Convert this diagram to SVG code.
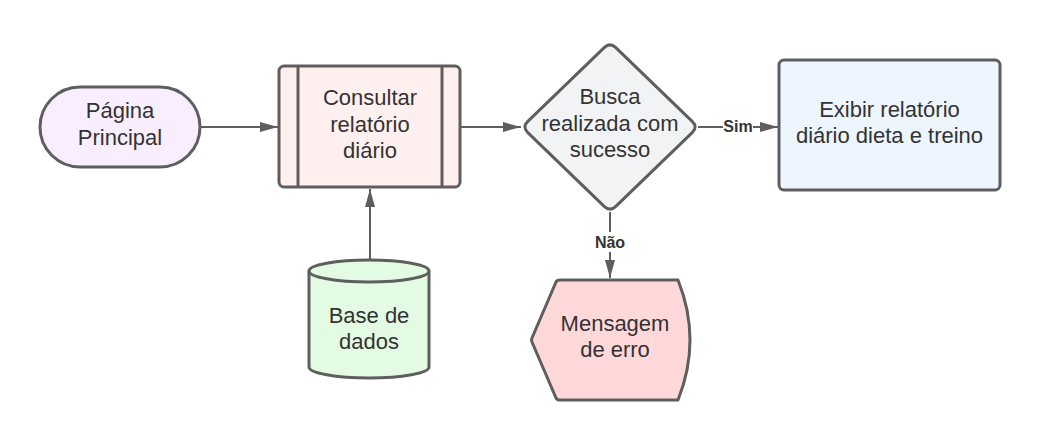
<svg xmlns="http://www.w3.org/2000/svg" width="1040" height="440" viewBox="0 0 1040 440">
<defs>
<marker id="ah" markerWidth="18" markerHeight="10" refX="18" refY="5" orient="auto" markerUnits="userSpaceOnUse">
<path d="M0,0 L18,5 L0,10 Z" fill="#5e5e5e"/>
</marker>
<style>
.sh{stroke:#5e5e5e;stroke-width:3;stroke-linejoin:round}
.t{font-family:"Liberation Sans",Arial,sans-serif;font-size:22px;fill:#333333;text-anchor:middle}
.lb{font-family:"Liberation Sans",Arial,sans-serif;font-size:16px;font-weight:bold;fill:#333333;text-anchor:middle}
.c{stroke:#5e5e5e;stroke-width:2;fill:none}
</style>
</defs>
<rect width="1040" height="440" fill="#ffffff"/>
<g id="connectors">
<line class="c" x1="200" y1="127" x2="278" y2="127" marker-end="url(#ah)"/>
<line class="c" x1="460" y1="127" x2="521" y2="127" marker-end="url(#ah)"/>
<line class="c" x1="370" y1="260" x2="370" y2="189" marker-end="url(#ah)"/>
<line class="c" x1="698" y1="127" x2="778" y2="127" marker-end="url(#ah)"/>
<rect x="723" y="118" width="30" height="16" fill="#ffffff"/>
<text class="lb" x="738" y="132">Sim</text>
<line class="c" x1="610" y1="212" x2="610" y2="278" marker-end="url(#ah)"/>
<rect x="592" y="232" width="36" height="20" fill="#ffffff"/>
<text class="lb" x="610" y="248">Não</text>
</g>
<g id="pagina-principal">
<rect class="sh" x="40" y="87" width="160" height="80" rx="40" ry="40" fill="#F8EEFF"/>
<text class="t" x="120" y="118">Página</text>
<text class="t" x="120" y="145">Principal</text>
</g>
<g id="consultar">
<rect class="sh" x="279" y="66" width="181" height="121" rx="5" ry="5" fill="#FFF0EF"/>
<line class="sh" x1="298" y1="66" x2="298" y2="187"/>
<line class="sh" x1="442" y1="66" x2="442" y2="187"/>
<text class="t" x="370" y="105">Consultar</text>
<text class="t" x="370" y="132">relatório</text>
<text class="t" x="370" y="158">diário</text>
</g>
<g id="busca">
<path class="sh" fill="#F2F3F5" d="M604.2,47.6 Q610,42 615.8,47.6 L692.2,121.4 Q698,127 692.2,132.6 L615.8,206.4 Q610,212 604.2,206.4 L527.8,132.6 Q522,127 527.8,121.4 Z"/>
<text class="t" x="610" y="104">Busca</text>
<text class="t" x="610" y="131">realizada com</text>
<text class="t" x="610" y="157">sucesso</text>
</g>
<g id="exibir">
<rect class="sh" x="779" y="60" width="221" height="130" rx="5" ry="5" fill="#EDF5FF"/>
<text class="t" x="889.5" y="117">Exibir relatório</text>
<text class="t" x="889.5" y="143">diário dieta e treino</text>
</g>
<g id="base-de-dados">
<path class="sh" fill="#E3FAE3" d="M309,271 A60,11 0 0 1 429,271 L429,367 A60,11 0 0 1 309,367 Z"/>
<path class="sh" fill="none" d="M309,271 A60,11 0 0 0 429,271"/>
<text class="t" x="369" y="323">Base de</text>
<text class="t" x="369" y="349">dados</text>
</g>
<g id="mensagem">
<path class="sh" fill="#FFD9DA" d="M560,280 L678,280 Q702,340 678,400 L560,400 Q557,400 556,398 L532,342 Q531,340 532,338 L556,282 Q557,280 560,280 Z"/>
<text class="t" x="615" y="331">Mensagem</text>
<text class="t" x="615" y="357">de erro</text>
</g>
</svg>
